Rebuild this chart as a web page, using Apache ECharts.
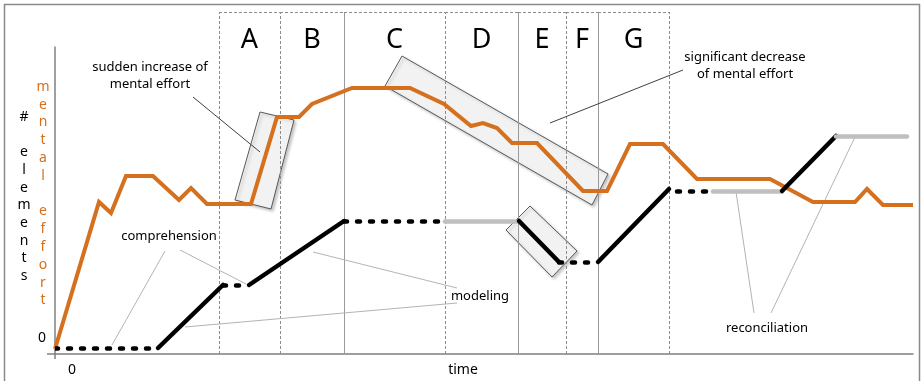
<!DOCTYPE html>
<html><head><meta charset="utf-8">
<script src="https://cdn.jsdelivr.net/npm/echarts@6/dist/echarts.min.js"></script>
<style>html,body{margin:0;padding:0;background:#fff}#c{width:921px;height:381px}</style>
</head><body><div id="c"></div>
<script>
// ---- data (time units along x, level units along y) ----
const effortTime  = [0,44,56,71,98,124,136,152,196,222,244,257,297,355,389,416,428,442,457,482,528,552,575,608,642,715,758,800,812,828,858];
const effortLevel = [5,152,141,178,178,154,166,150,150,237,237,250,266,266,250,228,231,226,211,211,163,163,210,210,175,175,152,152,165,149,149];

const elementsTime  = [0,103,168,194,289,390,464,504,543,614,622,654,658,727,781,852];
const elementsLevel = [6,6,69,69,133,133,133,92,92,165,163,163,163,163,218,218];
// style of segment i (between point i and i+1)
const elementsStyle = ['dash','solid','dash','solid','dash','gray','solid','dash','solid','gap','dash','gap','gray','solid','gray'];

const regionLabels = ['A','B','C','D','E','F','G'];
const regionEdges  = [164,225,289,390,463,511,543,614];
const regionEdgeDashed = [true,true,false,true,false,true,false,true];
const regionTop = 342;
const regionLabelLevel = 314;

// highlighted areas (corners in time/level units)
const highlightBoxes = [
  [[205,242],[239,234],[216,145],[180,154]],
  [[347,298],[553,180],[537,149],[330,268]],
  [[475,148],[522,103],[497,77],[451,124]]
];

// annotations: text, anchor, leader lines, dark leader?
const noteTexts   = ['sudden increase of\nmental effort','comprehension','modeling','significant decrease\nof mental effort','reconciliation'];
const noteAnchors = [[95,278],[114,118],[425,58],[690,288],[712,26]];
const noteLeaders = [
  [[[138,257],[205,202]]],
  [[[110,103],[57,9]],[[125,104],[191,70]]],
  [[[402,66],[258,102]],[[402,51],[130,27]]],
  [[[628,284],[495,231]]],
  [[[699,41],[681,162]],[[716,41],[800,217]]]
];
const noteDark = [true,false,false,true,false];

const ORANGE = '#D4701E';
const FONT = '"Noto Sans", sans-serif';

// ---- build ----
const effortData = effortTime.map((t,i)=>[t,effortLevel[i]]);
const segStyles = {
  solid: {color:'#000', width:4.5, type:'solid', cap:'round'},
  dash:  {color:'#000', width:4.5, type:[3,10], cap:'round'},
  gray:  {color:'#BFBFBF', width:4.5, type:'solid', cap:'round'}
};
const segData = [];
for (let i=0;i<elementsStyle.length;i++){
  const s = elementsStyle[i];
  if (s==='gap') continue;
  segData.push({coords:[[elementsTime[i],elementsLevel[i]],[elementsTime[i+1],elementsLevel[i+1]]], lineStyle: segStyles[s]});
}

const chart = echarts.init(document.getElementById('c'), null, {renderer:'canvas'});
chart.setOption({
  animation:false,
  backgroundColor:'#fff',
  grid:{left:55,right:8,top:47,bottom:27},
  xAxis:{type:'value',min:0,max:858,axisLine:{show:true,onZero:false,lineStyle:{color:'#7f7f7f',width:1.5}},axisTick:{show:false},axisLabel:{show:false},splitLine:{show:false}},
  yAxis:{type:'value',min:0,max:307,axisLine:{show:true,onZero:false,lineStyle:{color:'#7f7f7f',width:1.5}},axisTick:{show:false},axisLabel:{show:false},splitLine:{show:false}},
  graphic:[
    {type:'rect',shape:{x:4.5,y:4.5,width:915,height:400},style:{fill:null,stroke:'#8a8a8a',lineWidth:1.5},silent:true,z:0},
    {type:'line',shape:{x1:47,y1:354,x2:55,y2:354},style:{stroke:'#7f7f7f',lineWidth:1.5}},
    {type:'line',shape:{x1:55,y1:354,x2:55,y2:359},style:{stroke:'#7f7f7f',lineWidth:1.5}},
    {type:'text',x:24,y:108,style:{text:'#\n\ne\nl\ne\nm\ne\nn\nt\ns',font:'14px '+FONT,fill:'#000',align:'center',verticalAlign:'top',lineHeight:17.7}},
    {type:'text',x:43,y:78,style:{text:'m\ne\nn\nt\na\nl\n\ne\nf\nf\no\nr\nt',font:'14px '+FONT,fill:ORANGE,align:'center',verticalAlign:'top',lineHeight:17.8}},
    {type:'text',x:42,y:338,style:{text:'0',font:'14px '+FONT,fill:'#000',align:'center',verticalAlign:'middle'}},
    {type:'text',x:72,y:370,style:{text:'0',font:'14px '+FONT,fill:'#000',align:'center',verticalAlign:'middle'}},
    {type:'text',x:463,y:370,style:{text:'time',font:'14px '+FONT,fill:'#000',align:'center',verticalAlign:'middle'}}
  ],
  series:[
    {
      type:'custom', name:'boxes', z:1, clip:false, silent:true,
      data: highlightBoxes.map(b=>b[0]),
      renderItem:function(params, api){
        const pts = highlightBoxes[params.dataIndex].map(p=>api.coord(p));
        return {type:'polygon', shape:{points:pts}, style:{fill:'#F2F2F2',stroke:'#595959',lineWidth:1,shadowBlur:3,shadowOffsetX:2,shadowOffsetY:2,shadowColor:'rgba(0,0,0,0.22)'}};
      }
    },
    {
      type:'custom', name:'regions', z:2, clip:false, silent:true,
      data: regionLabels.map((l,i)=>[regionEdges[i],regionTop]),
      renderItem:function(params, api){
        const i = params.dataIndex;
        const x0 = regionEdges[i], x1 = regionEdges[i+1];
        const b0 = api.coord([x0,0]), t0 = api.coord([x0,regionTop]), t1 = api.coord([x1,regionTop]);
        const dashSt = {stroke:'#8c8c8c',lineWidth:1,lineDash:[3,2]};
        const solidSt = {stroke:'#9a9a9a',lineWidth:1};
        const children = [
          {type:'line',shape:{x1:Math.round(b0[0])+0.5,y1:b0[1],x2:Math.round(t0[0])+0.5,y2:t0[1]},style:regionEdgeDashed[i]?dashSt:solidSt},
          {type:'line',shape:{x1:t0[0],y1:Math.round(t0[1])+0.5,x2:t1[0],y2:Math.round(t1[1])+0.5},style:dashSt}
        ];
        const c = api.coord([(x0+x1)/2, regionLabelLevel]);
        children.push({type:'text',x:c[0],y:c[1],style:{text:regionLabels[i],font:'27px '+FONT,fill:'#000',align:'center',verticalAlign:'middle'}});
        if (i===regionLabels.length-1){
          const b1 = api.coord([x1,0]);
          children.push({type:'line',shape:{x1:Math.round(b1[0])+0.5,y1:b1[1],x2:Math.round(t1[0])+0.5,y2:t1[1]},style:regionEdgeDashed[i+1]?dashSt:solidSt});
        }
        return {type:'group',children:children};
      }
    },
    {
      type:'custom', name:'notes', z:2, clip:false, silent:true,
      data: noteAnchors,
      renderItem:function(params, api){
        const i = params.dataIndex;
        const a = api.coord(noteAnchors[i]);
        const children = noteLeaders[i].map(seg=>{
          const p = api.coord(seg[0]), q = api.coord(seg[1]);
          return {type:'line',shape:{x1:p[0],y1:p[1],x2:q[0],y2:q[1]},style:{stroke:noteDark[i]?'#404040':'#b4b4b4',lineWidth:1}};
        });
        children.push({type:'text',x:a[0],y:a[1],style:{text:noteTexts[i],font:'13px '+FONT,fill:'#000',align:'center',verticalAlign:'middle',lineHeight:17}});
        return {type:'group',children:children};
      }
    },
    {
      type:'line', name:'mental effort', z:3, data:effortData, showSymbol:false, symbol:'none',
      lineStyle:{color:ORANGE,width:4,join:'miter'}
    },
    {
      type:'lines', name:'# elements', coordinateSystem:'cartesian2d', z:4, polyline:false,
      data:segData, lineStyle:{opacity:1}
    }
  ]
});
</script>
</body></html>
